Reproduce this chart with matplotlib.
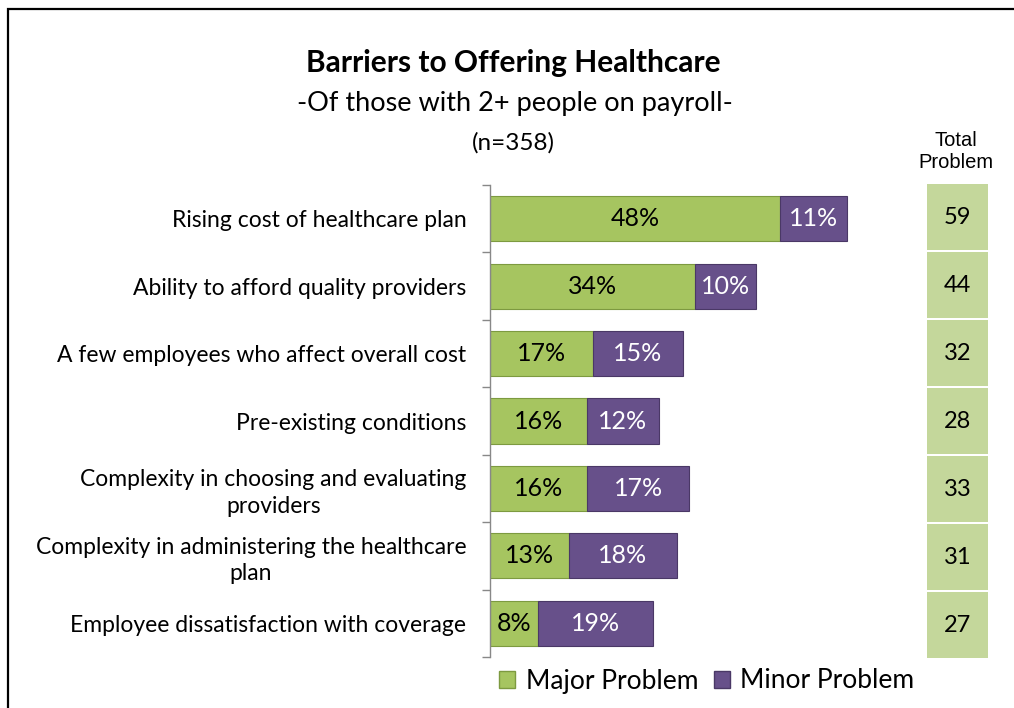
import matplotlib.pyplot as plt
import matplotlib.patches as mpatches
import numpy as np

categories = [
    "Rising cost of healthcare plan",
    "Ability to afford quality providers",
    "A few employees who affect overall cost",
    "Pre-existing conditions",
    "Complexity in choosing and evaluating\nproviders",
    "Complexity in administering the healthcare\nplan",
    "Employee dissatisfaction with coverage",
]
major = [48, 34, 17, 16, 16, 13, 8]
minor = [11, 10, 15, 12, 17, 18, 19]
total = [59, 44, 32, 28, 33, 31, 27]

green = "#a6c560"
purple = "#67508a"
box_green = "#c4d79b"
font = ["Lato", "DejaVu Sans"]

W, H = 1014, 708
fig = plt.figure(figsize=(W / 100, H / 100), dpi=100)

# outer frame (runs off the right/bottom edge)
fig.patches.append(mpatches.Rectangle((8 / W, -0.05), 1.2, 1 - 9 / H + 0.05,
                                      transform=fig.transFigure, fill=False,
                                      edgecolor="black", linewidth=1.6))

n = len(categories)
y = np.arange(n)

ax = fig.add_axes([490 / W, 51 / H, 423 / W, 472 / H])
ax.barh(y, major, height=0.67, color=green, edgecolor="#7d9a40", linewidth=0.8)
ax.barh(y, minor, left=major, height=0.67, color=purple, edgecolor="#4a3866", linewidth=0.8)
for i in range(n):
    ax.text(major[i] / 2, y[i], f"{major[i]}%", ha="center", va="center",
            fontsize=18, color="black", family=font)
    ax.text(major[i] + minor[i] / 2, y[i], f"{minor[i]}%", ha="center", va="center",
            fontsize=18, color="white", family=font)

ax.set_xlim(0, 70)
ax.set_ylim(n - 0.5, -0.5)
ax.set_yticks(y)
ax.set_yticklabels(categories, fontsize=16.5, family=font, linespacing=1.3)
for lab in ax.get_yticklabels():
    lab.set_multialignment("center")
ax.set_yticks(np.arange(n + 1) - 0.5, minor=True)
ax.tick_params(axis="y", which="major", length=0, pad=17)
ax.tick_params(axis="y", which="minor", length=6, color="#888888", width=1)
ax.set_xticks([])
for s in ["top", "right", "bottom"]:
    ax.spines[s].set_visible(False)
ax.spines["left"].set_color("#888888")
ax.spines["left"].set_linewidth(1)

# total problem column
ax2 = fig.add_axes([927 / W, 49 / H, 61 / W, 476 / H])
ax2.barh(y, [1] * n, height=0.96, color=box_green)
for i in range(n):
    ax2.text(0.5, y[i], str(total[i]), ha="center", va="center", fontsize=17, family=font)
ax2.set_xlim(0, 1)
ax2.set_ylim(n - 0.5, -0.5)
ax2.axis("off")
fig.text(956 / W, 1 - 151 / H, "Total\nProblem", ha="center", va="center",
         fontsize=14.5, family="Liberation Sans", linespacing=1.2)

# titles
fig.text(513 / W, 1 - 63 / H, "Barriers to Offering Healthcare", ha="center", va="center",
         fontsize=21.5, fontweight="bold", family=font)
fig.text(515 / W, 1 - 103 / H, "-Of those with 2+ people on payroll-", ha="center", va="center",
         fontsize=19.5, family=font)
fig.text(513 / W, 1 - 143 / H, "(n=358)", ha="center", va="center", fontsize=17.5, family=font)

# legend
handles = [mpatches.Patch(facecolor=green, edgecolor="#7d9a40", label="Major Problem"),
           mpatches.Patch(facecolor=purple, edgecolor="#4a3866", label="Minor Problem")]
fig.legend(handles=handles, loc="center", bbox_to_anchor=(707 / W, 1 - 681 / H), ncol=2,
           frameon=False, prop={"family": font, "size": 19}, handlelength=0.6,
           handleheight=0.6, handletextpad=0.4, columnspacing=0.6)

fig.savefig("out.png", dpi=100)
